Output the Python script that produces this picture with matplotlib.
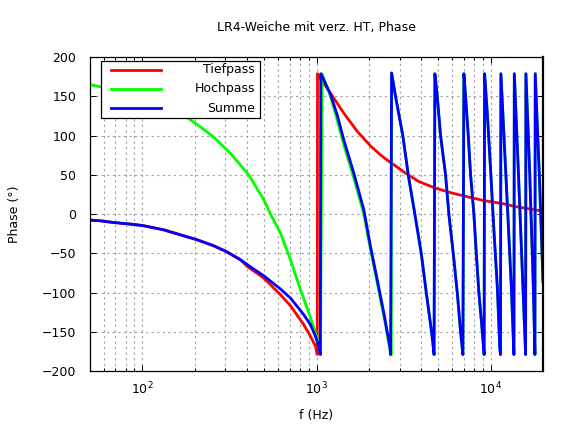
import matplotlib
matplotlib.use("Agg")
import matplotlib.pyplot as plt
from matplotlib.patches import Rectangle
from matplotlib.ticker import LogLocator, NullFormatter, MultipleLocator

# values (frequency in Hz, phase in degrees)
tp_f = [50, 57.4, 68.4, 85.3, 100, 132.6, 165.4, 206.2, 256.9, 302.7, 365.8,
        399.6, 436.1, 497.9, 621.1, 708.8, 845.4, 923.7, 987, 1010, 1013,
        1031, 1203, 1315, 1435, 1713, 2043, 2332, 2492, 2844, 3247, 3872,
        4830, 6025, 7505, 9153, 11924, 13615, 18550, 20000]
tp_ph = [-7.6, -8.5, -10.7, -12.7, -14.5, -20, -26.4, -32.7, -40.4, -47.6, -58.2,
         -66.7, -72.5, -81.5, -102.8, -116.8, -141, -155.9, -168.7, -179, 179,
         176, 154.1, 141.4, 128.7, 105.6, 87, 75.5, 70.4, 61.5, 52.2, 41.5,
         33.1, 26.8, 21.7, 17.3, 13.1, 10, 5, 4]

# Summe: low part, then the wrapped segments
sum_f_lo = [50, 57.4, 68.4, 85.3, 100, 132.6, 165.4, 206.2, 256.9, 302.7,
            365.8, 436.1, 497.9, 621.1, 708.8, 774.5, 845.4, 923.7, 987,
            1031, 1052]
sum_ph_lo = [-7.6, -8.5, -10.7, -12.7, -14.5, -20, -26.4, -32.7, -40.4, -47.6,
             -58.2, -70.1, -78.6, -95.5, -107, -117.7, -128.3, -141, -155.9,
             -168.7, -179]
sum_f_s1 = [1058, 1203, 1315, 1435, 1638, 1870, 2043, 2233, 2437, 2638, 2663]
sum_ph_s1 = [179, 153, 126.5, 94.6, 52.2, 5.5, -41.3, -83.7, -126.1, -168.7, -179]
sum_f_hi = [2700, 2844, 3133, 3365, 3672, 3997, 4271, 4580, 4735,
            4786, 4940, 5160, 5513, 5758, 6103, 6435, 6723, 6931,
            7025, 7183, 7444, 7675, 8017, 8276, 8566, 8960, 9180,
            9237, 9573, 10000, 10446, 10926, 11308, 11400,
            11461, 12203, 13152, 13615,
            13686, 14429, 15333, 15889,
            15955, 16755, 17596, 17974,
            18050, 19126, 20000]
sum_ph_hi = [180, 150, 100, 50, 0, -50, -100, -150, -179,
             179, 150, 100, 50, 0, -50, -100, -150, -179,
             179, 150, 100, 50, 0, -50, -100, -150, -179,
             179, 128.7, 56.4, -20, -92.2, -172.9, -179,
             179, 56, -92, -179,
             179, 56, -92, -179,
             179, 56, -92, -179,
             179, 40, -86]

# Hochpass: low part and first segment, above 2.7 kHz it lies under Summe
hp_f_lo = [50, 57.4, 68.4, 85.3, 106.4, 132.6, 165.4, 206.2, 256.9, 320.4,
           408.3, 497.9, 544, 621.1, 708.8, 809.3, 923.7, 1017, 1054]
hp_ph_lo = [165.1, 162.5, 159.2, 154.9, 147.8, 139.2, 128.7, 114.5, 98, 77.5,
            50, 18.2, 0, -24.2, -58.2, -96.4, -132, -160, -178]
hp_f_s1 = [1078, 1203, 1315, 1435, 1638, 1870, 2043, 2233, 2437, 2638, 2690]
hp_ph_s1 = [179, 150, 120, 88, 46, 0, -46, -88, -130, -172, -179]

sum_f = sum_f_lo + sum_f_s1 + sum_f_hi
sum_ph = sum_ph_lo + sum_ph_s1 + sum_ph_hi
hp_f = hp_f_lo + hp_f_s1 + sum_f_hi
hp_ph = hp_ph_lo + hp_ph_s1 + sum_ph_hi

labels = ["Tiefpass", "Hochpass", "Summe"]
colors = ["#ff0000", "#00ff00", "#0000ff"]

plt.rcParams["font.family"] = ["DejaVu Sans"]
plt.rcParams["font.size"] = 9

fig = plt.figure(figsize=(5.76, 4.32), dpi=100)
ax = fig.add_axes([0.1563, 0.1412, 0.7864, 0.7262])

for f, ph, c in zip([tp_f, hp_f, sum_f], [tp_ph, hp_ph, sum_ph], colors):
    ax.plot(f, ph, color=c, lw=2.0)

ax.set_xscale("log")
ax.set_xlim(50, 20000)
ax.set_ylim(-200, 200)
ax.yaxis.set_major_locator(MultipleLocator(50))
ax.xaxis.set_major_locator(LogLocator(base=10))
ax.xaxis.set_minor_locator(LogLocator(base=10, subs=range(2, 10)))
ax.xaxis.set_minor_formatter(NullFormatter())

ax.grid(which="both", axis="x", ls=(0, (2, 3)), color="#a0a0a0", lw=0.8)
ax.grid(which="major", axis="y", ls=(0, (2, 3)), color="#a0a0a0", lw=0.8)
ax.set_axisbelow(True)

ax.tick_params(which="both", direction="in", top=True, right=True, width=0.7)
ax.tick_params(which="major", length=4.5)
ax.tick_params(which="minor", length=2.5)
ax.tick_params(axis="y", pad=10)
ax.tick_params(axis="x", pad=7)
for s in ax.spines.values():
    s.set_linewidth(0.9)
ax.spines["right"].set_linewidth(1.6)

fig.text(0.549, 0.9375, "LR4-Weiche mit verz. HT, Phase", ha="center", va="center")
fig.text(0.549, 0.039, "f (Hz)", ha="center", va="center")
fig.text(0.026, 0.505, "Phase (°)", ha="center", va="center", rotation=90)

# key box like gnuplot: line sample left, text right-justified
ax.add_patch(Rectangle((0.0243, 0.8055), 0.351, 0.1825, transform=ax.transAxes,
                       facecolor="white", edgecolor="black", lw=0.9, zorder=5))
rows = [0.9595, 0.899, 0.8374]
for lab, c, yy in zip(labels, colors, rows):
    ax.plot([0.0464, 0.1567], [yy, yy], color=c, lw=2.0,
            transform=ax.transAxes, zorder=6)
    ax.text(0.3642, yy, lab, ha="right", va="center",
            transform=ax.transAxes, zorder=6)

fig.savefig("out.png", dpi=100)
